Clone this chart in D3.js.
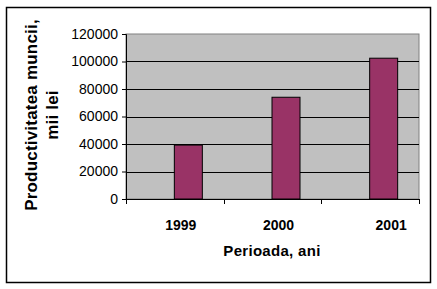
<!DOCTYPE html>
<html>
<head>
<meta charset="utf-8">
<script src="https://d3js.org/d3.v7.min.js"></script>
<style>
  body { margin: 0; background: #fff; }
  text { font-family: Arial, "Liberation Sans", sans-serif; }
</style>
</head>
<body>
<div id="chart"></div>
<script>
// Data
var years = ["1999", "2000", "2001"];
var productivity = [39200, 74000, 102400];
var yTicks = [0, 20000, 40000, 60000, 80000, 100000, 120000];
var yTitleLines = ["Productivitatea muncii,", "mii lei"];
var xTitle = "Perioada, ani";

var width = 437, height = 289;
var plot = { left: 126, right: 419, top: 34, bottom: 199 };

var svg = d3.select("#chart").append("svg")
  .attr("width", width)
  .attr("height", height);

// outer frame
svg.append("rect")
  .attr("x", 6.5).attr("y", 7.5)
  .attr("width", 424).attr("height", 275)
  .attr("fill", "#fff")
  .attr("stroke", "#000")
  .attr("stroke-width", 1.5);

var x = d3.scaleBand().domain(years).range([plot.left, plot.right]);
var y = d3.scaleLinear().domain([0, 120000]).range([plot.bottom, plot.top]);

// plot area
svg.append("rect")
  .attr("x", plot.left).attr("y", plot.top)
  .attr("width", plot.right - plot.left).attr("height", plot.bottom - plot.top)
  .attr("fill", "#c0c0c0")
  .attr("stroke", "#808080");

// gridlines
svg.selectAll("line.grid")
  .data(yTicks.filter(d => d > 0 && d < 120000))
  .enter().append("line")
  .attr("class", "grid")
  .attr("x1", plot.left).attr("x2", plot.right)
  .attr("y1", d => Math.round(y(d)) + 0.5).attr("y2", d => Math.round(y(d)) + 0.5)
  .attr("stroke", "#000");

// bars (Excel put them to the right of each category centre)
var barWidth = 28;
svg.selectAll("rect.bar")
  .data(productivity)
  .enter().append("rect")
  .attr("class", "bar")
  .attr("x", (d, i) => x(years[i]) + x.bandwidth() / 2 - 0.5)
  .attr("y", d => y(d))
  .attr("width", barWidth)
  .attr("height", d => plot.bottom - y(d))
  .attr("fill", "#993366")
  .attr("stroke", "#000")
  .attr("stroke-width", 1);

// y axis
var yAxis = svg.append("g")
  .attr("transform", "translate(" + plot.left + ",0)")
  .call(d3.axisLeft(y).tickValues(yTicks).tickSize(4).tickPadding(4).tickFormat(d3.format("d")));
yAxis.select(".domain").attr("stroke", "#000");
yAxis.selectAll("text").style("font-size", "14px").attr("fill", "#000");

// x axis
var xAxis = svg.append("g")
  .attr("transform", "translate(0," + plot.bottom + ")")
  .call(d3.axisBottom(x).tickSize(0).tickFormat(""));
xAxis.select(".domain").attr("stroke", "#000");
xAxis.selectAll(".tick").remove();

var boundaries = years.map(d => x(d)).concat([plot.right]);
svg.selectAll("line.xtick")
  .data(boundaries)
  .enter().append("line")
  .attr("class", "xtick")
  .attr("x1", d => Math.round(d) + 0.5).attr("x2", d => Math.round(d) + 0.5)
  .attr("y1", plot.bottom).attr("y2", plot.bottom + 5)
  .attr("stroke", "#000");

// category labels, nudged as in the original
var labelNudge = [-8, -8, 7];
svg.selectAll("text.xlab")
  .data(years)
  .enter().append("text")
  .attr("class", "xlab")
  .attr("x", (d, i) => x(d) + x.bandwidth() / 2 + barWidth / 2 + labelNudge[i])
  .attr("y", 230)
  .attr("text-anchor", "middle")
  .style("font-size", "14px")
  .style("font-weight", "bold")
  .text(d => d);

// axis titles
svg.append("text")
  .attr("x", 272)
  .attr("y", 256)
  .attr("text-anchor", "middle")
  .style("font-size", "15px")
  .style("font-weight", "bold")
  .style("letter-spacing", "0.3px")
  .text(xTitle);

svg.append("g")
  .attr("transform", "translate(37," + 115 + ") rotate(-90)")
  .selectAll("text")
  .data(yTitleLines)
  .enter().append("text")
  .attr("y", (d, i) => i * 21)
  .attr("text-anchor", "middle")
  .style("font-size", "17px")
  .style("font-weight", "bold")
  .style("letter-spacing", "0.2px")
  .text(d => d);
</script>
</body>
</html>
